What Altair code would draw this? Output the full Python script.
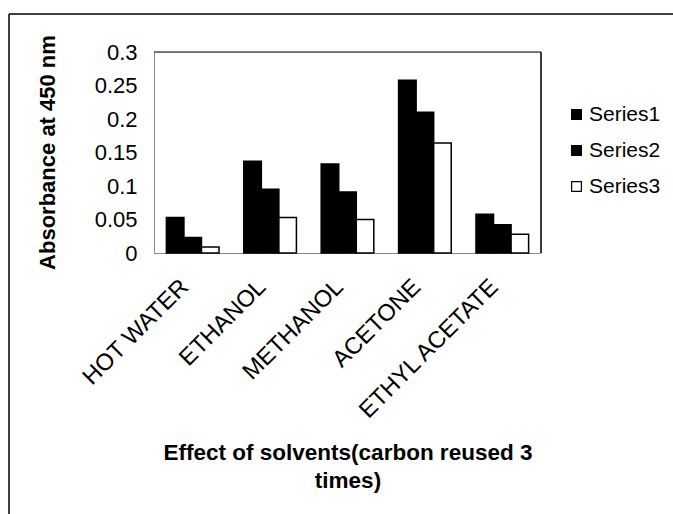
import altair as alt
import pandas as pd

solvents = ["HOT WATER", "ETHANOL", "METHANOL", "ACETONE", "ETHYL ACETATE"]
series_names = ["Series1", "Series2", "Series3"]
series1 = [0.053, 0.137, 0.133, 0.258, 0.058]
series2 = [0.023, 0.095, 0.091, 0.210, 0.042]
series3 = [0.009, 0.053, 0.050, 0.164, 0.028]
y_ticks = [0, 0.05, 0.1, 0.15, 0.2, 0.25, 0.3]

rows = []
for name, vals in zip(series_names, [series1, series2, series3]):
    for s, v in zip(solvents, vals):
        rows.append({"solvent": s, "series": name, "value": v})
df = pd.DataFrame(rows)

FONT = "Liberation Sans"

bars = alt.Chart(df).mark_bar(stroke="black", strokeWidth=1.5).encode(
    x=alt.X(
        "solvent:N",
        sort=solvents,
        scale=alt.Scale(paddingInner=0.32, paddingOuter=0.16),
        axis=alt.Axis(
            title=["Effect of solvents(carbon reused 3", "times)"],
            labelAngle=-45,
            labelAlign="right",
            labelBaseline="middle",
            labelPadding=30,
            labelOffset=-8,
            labelFontSize=23.5,
            labelFont=FONT,
            labelColor="black",
            labelLimit=400,
            ticks=False,
            titleFont=FONT,
            titleFontSize=22.5,
            titleFontWeight="bold",
            titleColor="black",
            titleY=188,
            titleLineHeight=28,
        ),
    ),
    xOffset=alt.XOffset("series:N", sort=series_names,
                        scale=alt.Scale(paddingInner=0, paddingOuter=0)),
    y=alt.Y(
        "value:Q",
        scale=alt.Scale(domain=[0, 0.3], nice=False),
        axis=alt.Axis(
            title="Absorbance at 450 nm",
            values=y_ticks,
            format="~g",
            grid=False,
            ticks=False,
            labelPadding=17,
            labelFontSize=22,
            labelFont=FONT,
            labelColor="black",
            titleFont=FONT,
            titleFontSize=22,
            titleFontWeight="bold",
            titleColor="black",
            titleX=-107,
            titleY=100,
            titleBaseline="middle",
        ),
    ),
    color=alt.Color(
        "series:N",
        sort=series_names,
        scale=alt.Scale(domain=series_names, range=["black", "black", "white"]),
        legend=alt.Legend(
            title=None,
            orient="none",
            legendX=412,
            legendY=52,
            symbolType="square",
            symbolSize=95,
            symbolStrokeColor="black",
            symbolStrokeWidth=1.2,
            labelFont=FONT,
            labelFontSize=21,
            labelColor="black",
            rowPadding=14,
            labelOffset=2,
        ),
    ),
)

frame_df = pd.DataFrame({"k": [0]})
top_line = alt.Chart(frame_df).mark_rule(color="black", strokeWidth=1.5).encode(
    x=alt.value(-145), x2=alt.value(519), y=alt.value(-38)
)
left_line = alt.Chart(frame_df).mark_rule(color="black", strokeWidth=1.5).encode(
    x=alt.value(-145), y=alt.value(-38), y2=alt.value(462)
)
plot_top = alt.Chart(frame_df).mark_rule(color="black", strokeWidth=1).encode(
    x=alt.value(0), x2=alt.value(387), y=alt.value(0)
)
plot_right = alt.Chart(frame_df).mark_rule(color="black", strokeWidth=1.5).encode(
    x=alt.value(387), y=alt.value(0), y2=alt.value(201)
)

chart = alt.layer(bars, top_line, left_line, plot_top, plot_right).properties(
    width=387,
    height=201,
    autosize=alt.AutoSizeParams(type="none"),
    padding={"left": 154, "top": 52, "right": 132, "bottom": 261},
).configure_view(
    strokeWidth=0
).configure_axis(
    domainColor="black", domainWidth=1.5
).configure(background="white")

chart.save("out.html", embed_options={"renderer": "svg", "actions": False})
